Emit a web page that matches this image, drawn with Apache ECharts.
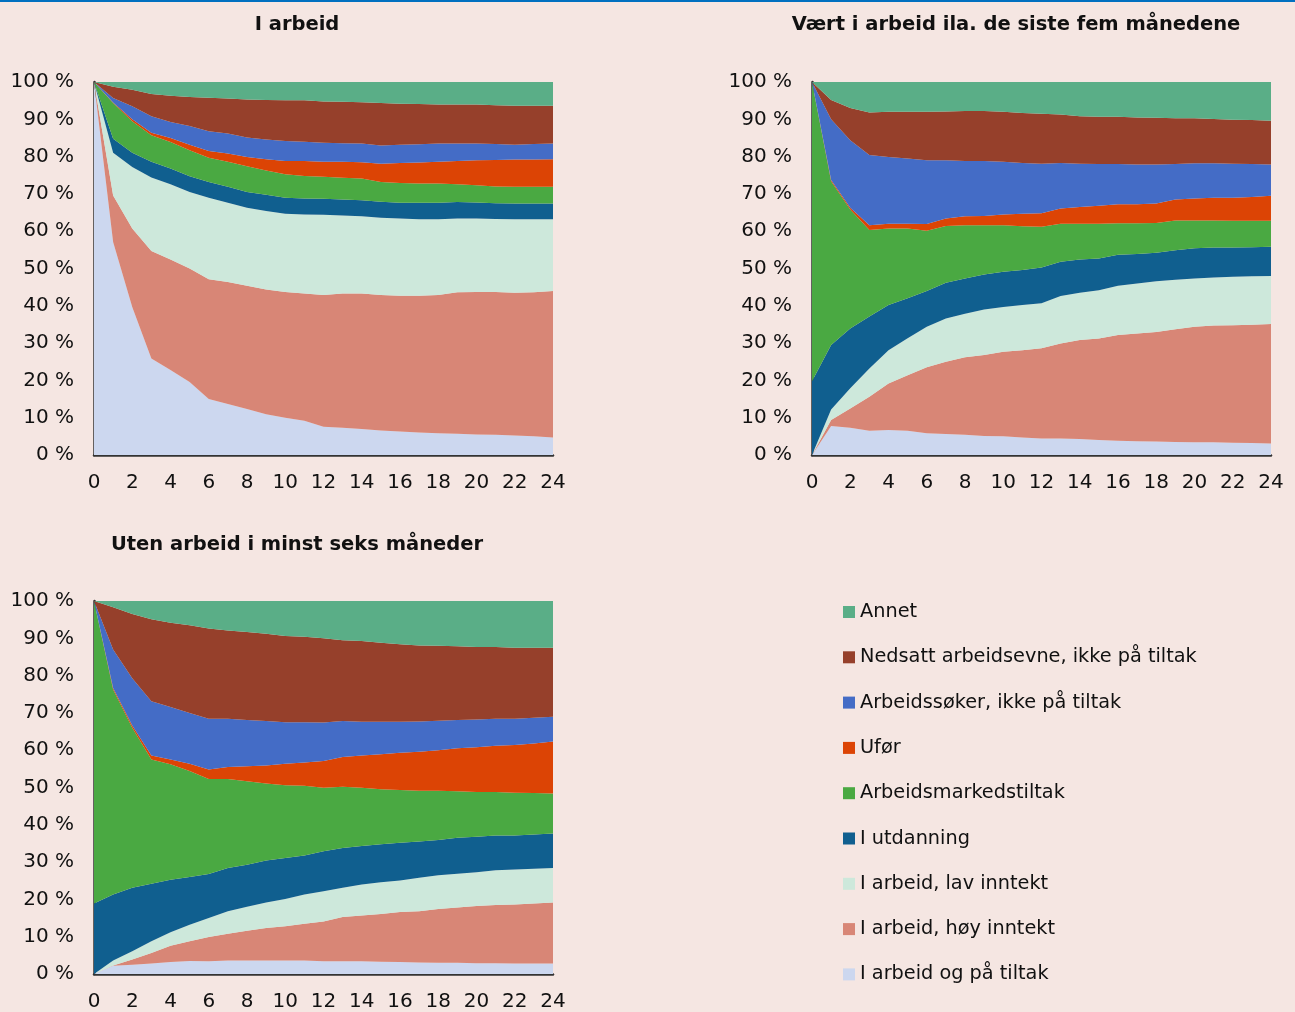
<!DOCTYPE html>
<html>
<head>
<meta charset="utf-8">
<script src="https://cdn.jsdelivr.net/npm/echarts@6/dist/echarts.min.js"></script>
<style>
  html, body { margin: 0; padding: 0; background: #f5e6e2; }
  #topline { height: 2px; background: #0070c0; }
  #chart { width: 1295px; height: 1010px; }
</style>
</head>
<body>
<div id="topline"></div>
<div id="chart"></div>
<script>
const months = ['0','1','2','3','4','5','6','7','8','9','10','11','12','13','14','15','16','17','18','19','20','21','22','23','24']
const titles = ['I arbeid', 'Vært i arbeid ila. de siste fem månedene', 'Uten arbeid i minst seks måneder']
const names = ['I arbeid og på tiltak', 'I arbeid, høy inntekt', 'I arbeid, lav inntekt', 'I utdanning', 'Arbeidsmarkedstiltak', 'Ufør', 'Arbeidssøker, ikke på tiltak', 'Nedsatt arbeidsevne, ikke på tiltak', 'Annet']
const colors = ['#ccd7ef', '#d88676', '#cde8db', '#105f8f', '#4aa942', '#dc4405', '#446cc6', '#96402b', '#5aae87']

// panel 1: I arbeid
const a_ogTiltak = [100, 57.1, 39.7, 25.9, 22.8, 19.6, 15.0, 13.7, 12.3, 10.9, 10.0, 9.2, 7.6, 7.3, 7.0, 6.6, 6.3, 6.0, 5.8, 5.7, 5.5, 5.4, 5.2, 5.0, 4.7]
const a_hoy = [0, 12.5, 21.0, 28.8, 29.6, 30.4, 32.1, 32.7, 33.1, 33.5, 33.7, 34.1, 35.3, 36.0, 36.3, 36.3, 36.4, 36.7, 37.1, 37.9, 38.2, 38.3, 38.3, 38.6, 39.3]
const a_lav = [0, 11.4, 16.5, 19.7, 20.2, 20.5, 21.9, 21.2, 20.9, 21.0, 21.0, 21.2, 21.5, 20.9, 20.7, 20.7, 20.7, 20.5, 20.3, 19.8, 19.7, 19.6, 19.7, 19.6, 19.2]
const a_utd = [0, 3.8, 3.8, 4.2, 4.2, 4.2, 4.2, 4.3, 4.2, 4.4, 4.3, 4.3, 4.3, 4.3, 4.3, 4.3, 4.2, 4.4, 4.4, 4.4, 4.3, 4.2, 4.2, 4.2, 4.2]
const a_tiltak = [0, 9.6, 8.5, 7.1, 7.1, 7.0, 6.5, 6.7, 6.9, 6.5, 6.3, 6.0, 5.9, 5.8, 5.8, 5.3, 5.3, 5.2, 5.2, 4.8, 4.6, 4.5, 4.5, 4.5, 4.5]
const a_ufor = [0, 0.1, 0.5, 0.7, 1.1, 1.5, 1.8, 2.2, 2.5, 3.0, 3.5, 4.0, 4.0, 4.3, 4.4, 4.9, 5.4, 5.6, 5.8, 6.2, 6.7, 7.1, 7.3, 7.3, 7.4]
const a_soker = [0, 1.2, 3.5, 4.4, 4.3, 5.0, 5.3, 5.4, 5.2, 5.3, 5.4, 5.2, 5.1, 5.0, 5.0, 4.9, 4.9, 4.9, 4.9, 4.7, 4.5, 4.3, 4.0, 4.2, 4.2]
const a_nedsatt = [0, 3.0, 4.4, 6.0, 7.0, 7.8, 9.0, 9.4, 10.2, 10.6, 10.9, 11.1, 11.1, 11.1, 11.1, 11.4, 11.0, 10.8, 10.5, 10.5, 10.5, 10.4, 10.4, 10.2, 10.1]
const a_annet = [0, 1.3, 2.1, 3.2, 3.7, 4.0, 4.2, 4.4, 4.7, 4.8, 4.9, 5.0, 5.2, 5.3, 5.4, 5.6, 5.8, 5.9, 6.0, 6.0, 6.0, 6.2, 6.4, 6.4, 6.4]

// panel 2: Vært i arbeid ila. de siste fem månedene
const b_ogTiltak = [0, 7.8, 7.3, 6.5, 6.7, 6.5, 5.8, 5.6, 5.4, 5.1, 5.0, 4.7, 4.4, 4.4, 4.3, 4.0, 3.8, 3.7, 3.6, 3.5, 3.4, 3.4, 3.3, 3.2, 3.1]
const b_hoy = [0, 1.6, 5.2, 9.1, 12.5, 14.9, 17.7, 19.4, 20.8, 21.7, 22.7, 23.4, 24.2, 25.5, 26.5, 27.2, 28.4, 28.9, 29.4, 30.2, 31.0, 31.3, 31.5, 31.7, 32.0]
const b_lav = [0, 2.8, 5.4, 7.6, 8.9, 9.9, 10.9, 11.6, 11.7, 12.2, 12.0, 12.1, 12.1, 12.7, 12.7, 13.0, 13.2, 13.4, 13.6, 13.3, 12.9, 12.9, 13.0, 13.0, 12.9]
const b_utd = [19.8, 17.3, 16.0, 13.9, 12.1, 10.7, 9.6, 9.6, 9.4, 9.4, 9.4, 9.4, 9.6, 9.2, 8.9, 8.5, 8.3, 7.9, 7.6, 7.9, 8.1, 8.0, 7.8, 7.8, 7.8]
const b_tiltak = [80.2, 43.9, 31.9, 23.2, 20.5, 18.7, 16.1, 15.2, 14.3, 13.2, 12.5, 11.7, 10.9, 10.2, 9.6, 9.3, 8.4, 8.2, 8.0, 8.0, 7.5, 7.3, 7.2, 7.1, 7.0]
const b_ufor = [0, 0.3, 0.5, 1.3, 1.3, 1.3, 1.8, 2.0, 2.4, 2.5, 2.9, 3.4, 3.6, 4.1, 4.5, 4.8, 5.1, 5.1, 5.2, 5.6, 5.9, 6.1, 6.2, 6.4, 6.7]
const b_soker = [0, 16.3, 18.1, 18.8, 17.9, 17.5, 17.1, 15.6, 14.8, 14.7, 14.1, 13.6, 13.3, 12.2, 11.6, 11.2, 10.8, 10.7, 10.5, 9.5, 9.4, 9.2, 9.1, 8.8, 8.4]
const b_nedsatt = [0, 5.2, 8.6, 11.4, 12.1, 12.5, 13.0, 13.1, 13.4, 13.4, 13.4, 13.4, 13.4, 13.0, 12.7, 12.7, 12.7, 12.6, 12.5, 12.3, 12.1, 11.9, 11.8, 11.8, 11.7]
const b_annet = [0, 4.8, 7.0, 8.2, 8.0, 8.0, 8.0, 7.9, 7.8, 7.9, 8.0, 8.3, 8.5, 8.7, 9.2, 9.3, 9.4, 9.5, 9.6, 9.7, 9.8, 10.0, 10.1, 10.2, 10.4]

// panel 3: Uten arbeid i minst seks måneder
const c_ogTiltak = [0, 2.2, 2.5, 2.8, 3.2, 3.5, 3.4, 3.6, 3.6, 3.6, 3.6, 3.6, 3.4, 3.4, 3.4, 3.3, 3.2, 3.1, 3.0, 3.0, 2.9, 2.9, 2.8, 2.8, 2.8]
const c_hoy = [0, 0.1, 1.4, 2.8, 4.4, 5.3, 6.5, 7.2, 8.0, 8.7, 9.2, 9.9, 10.7, 11.9, 12.3, 12.8, 13.4, 13.7, 14.4, 14.8, 15.3, 15.6, 15.8, 16.1, 16.4]
const c_lav = [0, 1.3, 2.2, 3.2, 3.6, 4.4, 5.1, 6.0, 6.4, 6.9, 7.3, 7.8, 8.1, 7.8, 8.3, 8.5, 8.5, 9.0, 9.1, 9.1, 9.1, 9.3, 9.4, 9.3, 9.2]
const c_utd = [18.9, 17.7, 17.0, 15.4, 14.1, 12.8, 11.8, 11.6, 11.3, 11.2, 11.0, 10.5, 10.7, 10.7, 10.3, 10.2, 10.1, 9.7, 9.4, 9.6, 9.5, 9.3, 9.1, 9.2, 9.3]
const c_tiltak = [81.1, 55.0, 42.9, 33.3, 30.9, 28.4, 25.5, 23.9, 22.4, 20.7, 19.5, 18.7, 17.0, 16.4, 15.6, 14.7, 14.1, 13.6, 13.2, 12.5, 12.0, 11.7, 11.5, 11.1, 10.7]
const c_ufor = [0, 0.4, 0.6, 1.1, 1.3, 2.0, 2.5, 3.2, 4.0, 4.8, 5.8, 6.2, 7.2, 8.0, 8.7, 9.4, 10.0, 10.5, 10.9, 11.5, 12.0, 12.4, 12.8, 13.3, 13.9]
const c_soker = [0, 10.3, 12.7, 14.5, 14.1, 13.6, 13.6, 12.9, 12.4, 11.9, 11.1, 10.8, 10.3, 9.6, 9.0, 8.7, 8.3, 8.1, 7.9, 7.6, 7.4, 7.2, 7.0, 6.9, 6.7]
const c_nedsatt = [0, 11.3, 17.2, 22.0, 22.6, 23.5, 24.2, 23.7, 23.6, 23.4, 23.1, 22.9, 22.6, 21.7, 21.7, 21.2, 20.8, 20.4, 20.1, 19.8, 19.5, 19.3, 19.1, 18.8, 18.5]
const c_annet = [0, 1.7, 3.5, 4.9, 5.8, 6.5, 7.4, 7.9, 8.3, 8.8, 9.4, 9.7, 10.0, 10.5, 10.7, 11.2, 11.6, 11.9, 12.1, 12.2, 12.3, 12.4, 12.5, 12.5, 12.5]

const panels = [
  [a_ogTiltak, a_hoy, a_lav, a_utd, a_tiltak, a_ufor, a_soker, a_nedsatt, a_annet],
  [b_ogTiltak, b_hoy, b_lav, b_utd, b_tiltak, b_ufor, b_soker, b_nedsatt, b_annet],
  [c_ogTiltak, c_hoy, c_lav, c_utd, c_tiltak, c_ufor, c_soker, c_nedsatt, c_annet]
]

const FONT = 'DejaVu Sans'
const grids = [
  { left: 94, top: 80, width: 459, height: 373 },
  { left: 812, top: 80, width: 459, height: 373 },
  { left: 94, top: 599, width: 459, height: 373 }
]
const titleCenters = [[292, 8], [1011, 8], [292, 528]]

const chart = echarts.init(document.getElementById('chart'))

const axisLine = { show: true, lineStyle: { color: '#333', width: 2.5 } }

const series = []
panels.forEach((rows, p) => {
  rows.forEach((vals, i) => {
    series.push({
      name: names[i],
      type: 'line',
      stack: 'p' + p,
      xAxisIndex: p,
      yAxisIndex: p,
      data: vals,
      symbol: 'none',
      lineStyle: { width: 0 },
      areaStyle: { color: colors[i], opacity: 1 },
      itemStyle: { color: colors[i] },
      emphasis: { disabled: true },
      silent: true
    })
  })
})

chart.setOption({
  backgroundColor: '#f5e6e2',
  animation: false,
  title: titles.map((t, i) => ({
    text: t,
    left: titleCenters[i][0],
    top: titleCenters[i][1],
    textAlign: 'center',
    textStyle: { fontFamily: FONT, fontSize: 19.5, fontWeight: 'bold', color: '#111' }
  })),
  legend: {
    orient: 'vertical',
    left: 838,
    top: 595,
    itemWidth: 12,
    itemHeight: 12,
    itemGap: 25.3,
    icon: 'rect',
    data: names.slice().reverse(),
    textStyle: { fontFamily: FONT, fontSize: 19.3, lineHeight: 20, color: '#111' },
    selectedMode: false
  },
  grid: grids,
  xAxis: grids.map((g, i) => ({
    type: 'category',
    gridIndex: i,
    data: months,
    boundaryGap: false,
    axisLine: axisLine,
    axisTick: { show: false },
    axisLabel: { interval: 1, margin: 18, fontFamily: FONT, fontSize: 20, color: '#111' },
    splitLine: { show: false }
  })),
  yAxis: grids.map((g, i) => ({
    type: 'value',
    gridIndex: i,
    min: 0,
    max: 100,
    interval: 10,
    axisLine: axisLine,
    axisTick: { show: false },
    axisLabel: { formatter: '{value} %', margin: 20, fontFamily: FONT, fontSize: 20, color: '#111' },
    splitLine: { show: false }
  })),
  series
})
</script>
</body>
</html>
